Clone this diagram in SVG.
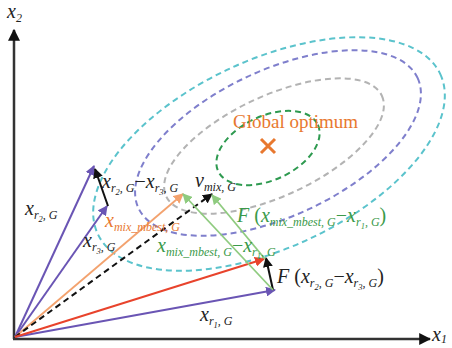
<svg xmlns="http://www.w3.org/2000/svg" width="452" height="348" viewBox="0 0 452 348" font-family="'Liberation Serif', 'DejaVu Serif', 'Times New Roman', serif">
<style>
text, tspan{font-family:"Liberation Serif","DejaVu Serif","Times New Roman",serif;}
.v{font-style:italic;font-size:20px;}
.s{font-style:italic;font-size:12px;}
.ss{font-style:italic;font-size:8.5px;}
.u{font-style:normal;}
.k{fill:#222;}
.og{fill:#e8782f;}
.gn{fill:#3a9a4a;}
.ell{fill:none;stroke-width:2;stroke-dasharray:6 4;}
</style>
<defs>
<marker id="ak" viewBox="0 0 10 10" refX="9" refY="5" markerWidth="10" markerHeight="10" markerUnits="userSpaceOnUse" orient="auto"><path d="M0,0L10,5L0,10z" fill="#111"/></marker>
<marker id="aax" viewBox="0 0 10 10" refX="9" refY="5" markerWidth="12" markerHeight="12" markerUnits="userSpaceOnUse" orient="auto"><path d="M0,0L10,5L0,10z" fill="#111"/></marker>
<marker id="ap" viewBox="0 0 10 10" refX="9" refY="5" markerWidth="10" markerHeight="10" markerUnits="userSpaceOnUse" orient="auto"><path d="M0,0L10,5L0,10z" fill="#6a55b4"/></marker>
<marker id="ao" viewBox="0 0 10 10" refX="9" refY="5" markerWidth="10" markerHeight="10" markerUnits="userSpaceOnUse" orient="auto"><path d="M0,0L10,5L0,10z" fill="#f3a26e"/></marker>
<marker id="ar" viewBox="0 0 10 10" refX="9" refY="5" markerWidth="10" markerHeight="10" markerUnits="userSpaceOnUse" orient="auto"><path d="M0,0L10,5L0,10z" fill="#e8432c"/></marker>
<marker id="ag" viewBox="0 0 10 10" refX="9" refY="5" markerWidth="10" markerHeight="10" markerUnits="userSpaceOnUse" orient="auto"><path d="M0,0L10,5L0,10z" fill="#8fcb7f"/></marker>
</defs>
<rect width="452" height="348" fill="#fff"/>

<g id="contours">
<ellipse class="ell" cx="269" cy="154" rx="189" ry="94" transform="rotate(-25 269 154)" stroke="#5bc3cc"/>
<ellipse class="ell" cx="278" cy="143" rx="154" ry="73" transform="rotate(-25 278 143)" stroke="#7f7fcc"/>
<ellipse class="ell" cx="274" cy="146" rx="119" ry="50" transform="rotate(-25 274 146)" stroke="#b3b3b3"/>
<ellipse class="ell" cx="268" cy="148" rx="55" ry="32" transform="rotate(-25 268 148)" stroke="#2e9a50"/>
</g>

<g id="optimum">
<path d="M261,139L275,153M275,139L261,153" stroke="#e8782f" stroke-width="3" fill="none"/>
<text x="233" y="128" font-size="19" class="og">Global optimum</text>
</g>

<g id="axes">
<line x1="14" y1="339" x2="14" y2="30" stroke="#333" stroke-width="2.5" marker-end="url(#aax)"/>
<line x1="13" y1="339" x2="430" y2="339" stroke="#333" stroke-width="2.5" marker-end="url(#aax)"/>
<text x="7" y="18" class="k"><tspan class="v">x</tspan><tspan class="s" dy="4">2</tspan></text>
<text x="432" y="341" class="k"><tspan class="v">x</tspan><tspan class="s" dy="2">1</tspan></text>
</g>

<g id="connectors">
<line x1="15" y1="337" x2="94" y2="166" stroke="#6a55b4" stroke-width="2" marker-end="url(#ap)"/>
<line x1="15" y1="337" x2="107" y2="206" stroke="#6a55b4" stroke-width="2" marker-end="url(#ap)"/>
<line x1="15" y1="337" x2="275" y2="290" stroke="#6a55b4" stroke-width="2" marker-end="url(#ap)"/>
<line x1="15" y1="337" x2="183" y2="194" stroke="#f3a26e" stroke-width="1.8" marker-end="url(#ao)"/>
<line x1="15" y1="337" x2="212" y2="194" stroke="#111" stroke-width="2" stroke-dasharray="6 4" marker-end="url(#ak)"/>
<line x1="15" y1="337" x2="264" y2="259" stroke="#e8432c" stroke-width="2" marker-end="url(#ar)"/>
<line x1="108" y1="206" x2="95" y2="169" stroke="#111" stroke-width="2" marker-end="url(#ak)"/>
<line x1="273" y1="290" x2="266" y2="258" stroke="#111" stroke-width="2" marker-end="url(#ak)"/>
<line x1="273" y1="290" x2="183" y2="194" stroke="#8fcb7f" stroke-width="1.8" marker-end="url(#ag)"/>
<line x1="265" y1="259" x2="212" y2="195" stroke="#8fcb7f" stroke-width="1.8" marker-end="url(#ag)"/>
</g>

<g id="labels">
<text x="25" y="215" class="k"><tspan class="v">x</tspan><tspan class="s" dy="4">r</tspan><tspan class="ss" dy="3">2</tspan><tspan class="s" dy="-3">, G</tspan></text>
<text x="83" y="247" class="k"><tspan class="v">x</tspan><tspan class="s" dy="4">r</tspan><tspan class="ss" dy="3">3</tspan><tspan class="s" dy="-3">, G</tspan></text>
<text x="102" y="188" class="k"><tspan class="v">x</tspan><tspan class="s" dy="4">r</tspan><tspan class="ss" dy="3">2</tspan><tspan class="s" dy="-3">, G</tspan><tspan class="v u" dy="-4">−</tspan><tspan class="v">x</tspan><tspan class="s" dy="4">r</tspan><tspan class="ss" dy="3">3</tspan><tspan class="s" dy="-3">, G</tspan></text>
<text x="195" y="187" class="k"><tspan class="v">v</tspan><tspan class="s" dy="4">mix, G</tspan></text>
<text x="105" y="227" class="og"><tspan class="v">x</tspan><tspan class="s" dy="4">mix_mbest, G</tspan></text>
<text x="157" y="252" class="gn"><tspan class="v">x</tspan><tspan class="s" dy="4">mix_mbest, G</tspan><tspan class="v u" dy="-4">−</tspan><tspan class="v">x</tspan><tspan class="s" dy="4">r</tspan><tspan class="ss" dy="3">1</tspan><tspan class="s" dy="-3">, G</tspan></text>
<text x="237" y="222" class="gn"><tspan class="v">F </tspan><tspan class="v u">(</tspan><tspan class="v">x</tspan><tspan class="s" dy="4">mix_mbest, G</tspan><tspan class="v u" dy="-4">−</tspan><tspan class="v">x</tspan><tspan class="s" dy="4">r</tspan><tspan class="ss" dy="3">1</tspan><tspan class="s" dy="-3">, G</tspan><tspan class="v u" dy="-4">)</tspan></text>
<text x="277" y="283" class="k"><tspan class="v">F </tspan><tspan class="v u">(</tspan><tspan class="v">x</tspan><tspan class="s" dy="4">r</tspan><tspan class="ss" dy="3">2</tspan><tspan class="s" dy="-3">, G</tspan><tspan class="v u" dy="-4">−</tspan><tspan class="v">x</tspan><tspan class="s" dy="4">r</tspan><tspan class="ss" dy="3">3</tspan><tspan class="s" dy="-3">, G</tspan><tspan class="v u" dy="-4">)</tspan></text>
<text x="200" y="321" class="k"><tspan class="v">x</tspan><tspan class="s" dy="4">r</tspan><tspan class="ss" dy="3">1</tspan><tspan class="s" dy="-3">, G</tspan></text>
</g>
</svg>
